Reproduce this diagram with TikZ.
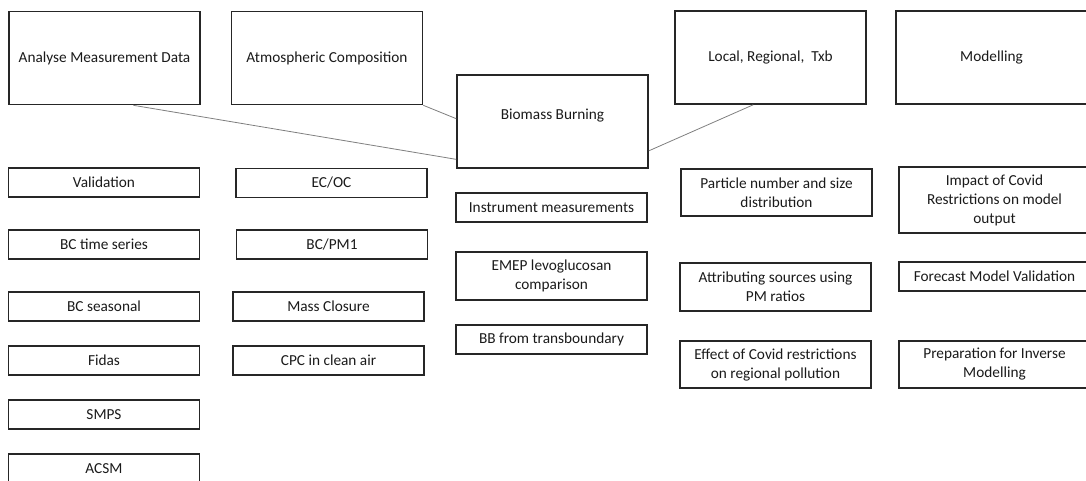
\documentclass[tikz,border=0pt]{standalone}
\usepackage{fontspec}
\setmainfont{Carlito}
\usetikzlibrary{calc}
\definecolor{boxline}{HTML}{262626}
\definecolor{conn}{HTML}{7F7F7F}
\definecolor{txt}{HTML}{1A1A1A}
\tikzset{
  base/.style={draw=boxline, text=txt, align=center, inner sep=2pt,
    font=\fontsize{15.3}{19}\selectfont},
  bigbox/.style={base, line width=1.6pt, minimum width=191pt, minimum height=93pt},
  smallbox/.style={base, line width=1.1pt, minimum width=191pt, minimum height=29pt},
  midbox/.style={base, line width=1.1pt, minimum width=191pt, minimum height=47pt},
  tallbox/.style={base, line width=1.1pt, minimum width=191pt, minimum height=66pt},
  link/.style={draw=conn, line width=0.8pt}
}
\begin{document}
\begin{tikzpicture}[x=1pt,y=-1pt]
\useasboundingbox (0,0) rectangle (1086,480);
\clip (0,0) rectangle (1086,480);
% top boxes
\node[bigbox] (amd) at (104.5,58) {Analyse Measurement Data};
\node[bigbox] (atm) at (327,58) {Atmospheric Composition};
\node[bigbox, text depth=14pt] (bio) at (552.5,121.5) {Biomass Burning};
\node[bigbox] (loc) at (770.5,57.5) {Local, Regional,\ \ Txb};
\node[bigbox] (mod) at (991.5,57.5) {Modelling};
% column 1
\node[smallbox] (val) at (104,182.5) {Validation};
\node[smallbox] (bct) at (104,244.5) {BC time series};
\node[smallbox] (bcs) at (104,306.5) {BC seasonal};
\node[smallbox] (fid) at (104,360.5) {Fidas};
\node[smallbox] (smp) at (104,414.5) {SMPS};
\node[smallbox] (acs) at (104,468.5) {ACSM};
% column 2
\node[smallbox] (ecoc) at (331.5,183) {EC/OC};
\node[smallbox] (bcpm) at (332,244.5) {BC/PM1};
\node[smallbox] (mass) at (328.5,306.5) {Mass Closure};
\node[smallbox] (cpc) at (328.5,360.5) {CPC in clean air};
% column 3
\node[smallbox] (ins) at (551.5,207.5) {Instrument measurements};
\node[base, line width=1.1pt, minimum width=191pt, minimum height=48pt] (emep) at (551.5,276) {EMEP levoglucosan\\comparison};
\node[smallbox] (bbt) at (551.5,339.5) {BB from transboundary};
% column 4
\node[midbox] (part) at (776.5,192.5) {Particle number and size\\distribution};
\node[base, line width=1.1pt, minimum width=191pt, minimum height=48pt] (attr) at (775.5,287) {Attributing sources using\\PM ratios};
\node[midbox] (eff) at (775.5,364.5) {Effect of Covid restrictions\\on regional pollution};
% column 5
\node[tallbox] (imp) at (994.5,200) {Impact of Covid\\Restrictions on model\\output};
\node[smallbox] (fore) at (994.5,276.5) {Forecast Model Validation};
\node[midbox] (prep) at (994.5,364.5) {Preparation for Inverse\\Modelling};
% connectors
\draw[link] ($(amd.south west)!0.65!(amd.south east)$) -- ($(bio.south west)!0.1!(bio.north west)$);
\draw[link] (atm.south east) -- ($(bio.south west)!0.53!(bio.north west)$);
\draw[link] ($(loc.south west)!0.41!(loc.south east)$) -- ($(bio.south east)!0.19!(bio.north east)$);
\end{tikzpicture}
\end{document}
